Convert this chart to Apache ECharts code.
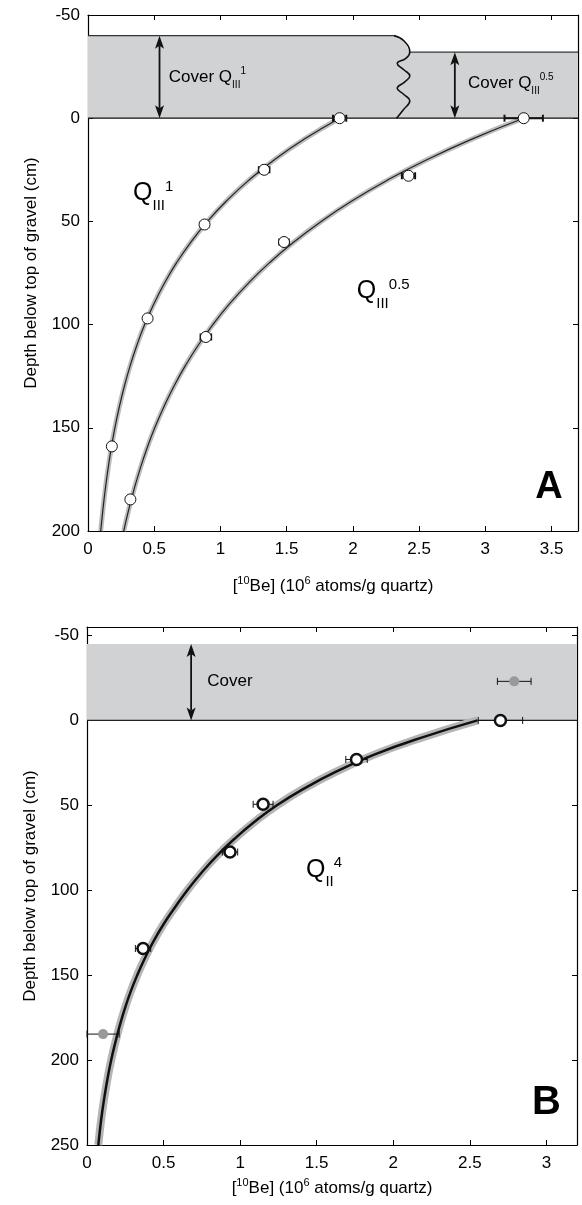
<!DOCTYPE html>
<html><head><meta charset="utf-8">
<script src="https://cdn.jsdelivr.net/npm/echarts@6/dist/echarts.min.js"></script>
<style>html,body{margin:0;padding:0;background:#fff}#c{width:582px;height:1205px}</style>
</head><body><div id="c"></div>
<script>
// ---------- Panel A data ----------
const xTicksA = [0, 0.5, 1, 1.5, 2, 2.5, 3, 3.5];
const yTicksA = [-50, 0, 50, 100, 150, 200];
const curveDepthA = [0,10,20,30,40,50,60,70,80,90,100,110,120,130,140,150,160,170,180,190,200];
const curveQ1  = [1.900,1.637,1.410,1.215,1.047,0.902,0.777,0.669,0.577,0.497,0.428,0.369,0.318,0.274,0.236,0.203,0.175,0.151,0.130,0.112,0.096];
const curveQ05 = [3.290,2.903,2.562,2.261,1.995,1.761,1.554,1.371,1.210,1.068,0.943,0.832,0.734,0.648,0.572,0.504,0.445,0.393,0.347,0.306,0.270];
const q1X     = [1.90, 1.33, 0.88, 0.45, 0.18];
const q1Depth = [0, 25, 51.5, 97, 159];
const q1Err   = [0.05, 0.04, 0.03, 0.02, 0.01];
const q05X     = [3.29, 2.42, 1.48, 0.89, 0.32];
const q05Depth = [0, 27.9, 60, 106, 184.7];
const q05Err   = [0.145, 0.05, 0.035, 0.04, 0.01];
const coverTopA = [-40, -32];          // cover thickness left (Q_III^1) / right (Q_III^0.5)
const waveX     = [2.31, 2.385, 2.43, 2.40, 2.335, 2.385, 2.43, 2.39, 2.335, 2.385, 2.43, 2.38, 2.33];
const waveDepth = [-40, -37.5, -32, -29, -26.5, -23.5, -20.5, -17.5, -14.5, -11.5, -8.5, -4, 0];
const arrowsA = [[0.54, -40, 0], [2.77, -32, 0]];

// ---------- Panel B data ----------
const xTicksB = [0, 0.5, 1, 1.5, 2, 2.5, 3];
const yTicksB = [-50, 0, 50, 100, 150, 200, 250];
const curveDepthB = [0,10,20,30,40,50,60,70,80,90,100,110,120,130,140,150,160,170,180,190,200,210,220,230,240,250];
const curveQ4 = [2.55,2.19,1.88,1.63,1.42,1.24,1.09,0.96,0.845,0.745,0.655,0.575,0.50,0.435,0.378,0.328,0.284,0.246,0.213,0.184,0.158,0.136,0.117,0.100,0.086,0.074];
const q4X     = [2.70, 1.76, 1.15, 0.934, 0.366];
const q4Depth = [0, 23, 49.4, 77.5, 134.3];
const q4Err   = [0.145, 0.07, 0.065, 0.05, 0.05];
const grayX     = [2.79, 0.105];
const grayDepth = [-23, 184.7];
const grayErr   = [0.11, 0.105];
const coverTopB = -45;
const arrowsB = [[0.68, -45, 0]];

const FONT = 'Liberation Sans, Arial, Helvetica, sans-serif';
const INK = '#000';
const zip = (xs, ys) => xs.map((x, i) => [x, ys[i]]);
const zip3 = (xs, ys, es) => xs.map((x, i) => [x, ys[i], es[i]]);

const xName = '[{s|10}Be] (10{s|6} atoms/g quartz)';
const yName = 'Depth below top of gravel (cm)';
const nameRich = {
  s: {fontSize: 11, padding: [0, 0, 12, 0], fontFamily: FONT, color: INK}
};

function xAx(grid, pos, min, max, ticks, showLabel, gap) {
  return {
    type: 'value', gridIndex: grid, position: pos, min: min, max: max,
    axisLine: {show: true, onZero: false, lineStyle: {color: '#000', width: 1.2}},
    axisTick: {show: true, inside: true, length: 5, customValues: ticks, lineStyle: {color: '#000', width: 1}},
    axisLabel: {show: showLabel, customValues: ticks, color: INK, fontSize: 17, fontFamily: FONT, margin: 10},
    splitLine: {show: false},
    name: showLabel ? xName : '', nameLocation: 'middle', nameGap: gap,
    nameTextStyle: {fontSize: 17, fontFamily: FONT, color: INK, rich: nameRich}
  };
}
function yAx(grid, pos, min, max, ticks, showLabel) {
  return {
    type: 'value', gridIndex: grid, position: pos, min: min, max: max, inverse: true,
    axisLine: {show: true, onZero: false, lineStyle: {color: '#000', width: 1.2}},
    axisTick: {show: true, inside: true, length: 5, customValues: ticks, lineStyle: {color: '#000', width: 1}},
    axisLabel: {show: showLabel, customValues: ticks, color: INK, fontSize: 17, fontFamily: FONT, margin: 8},
    splitLine: {show: false},
    name: showLabel ? yName : '', nameLocation: 'middle', nameGap: 48,
    nameTextStyle: {fontSize: 17, fontFamily: FONT, color: INK}
  };
}

function errItem(capH, lw) {
  return function (params, api) {
    const x = api.value(0), y = api.value(1), e = api.value(2);
    const a = api.coord([x - e, y]), b = api.coord([x + e, y]);
    const style = {stroke: '#111', lineWidth: lw};
    return {type: 'group', children: [
      {type: 'line', shape: {x1: a[0], y1: a[1], x2: b[0], y2: b[1]}, style: style},
      {type: 'line', shape: {x1: a[0], y1: a[1] - capH, x2: a[0], y2: a[1] + capH}, style: style},
      {type: 'line', shape: {x1: b[0], y1: b[1] - capH, x2: b[0], y2: b[1] + capH}, style: style}
    ]};
  };
}
function arrowItem(params, api) {
  const p1 = api.coord([api.value(0), api.value(1)]);
  const p2 = api.coord([api.value(0), api.value(2)]);
  const hw = 4.5, hl = 13, notch = 10;
  return {type: 'group', children: [
    {type: 'line', shape: {x1: p1[0], y1: p1[1] + notch, x2: p2[0], y2: p2[1] - notch}, style: {stroke: '#111', lineWidth: 1.8}},
    {type: 'polygon', shape: {points: [[p1[0], p1[1]], [p1[0] - hw, p1[1] + hl], [p1[0], p1[1] + notch], [p1[0] + hw, p1[1] + hl]]}, style: {fill: '#111'}},
    {type: 'polygon', shape: {points: [[p2[0], p2[1]], [p2[0] - hw, p2[1] - hl], [p2[0], p2[1] - notch], [p2[0] + hw, p2[1] - hl]]}, style: {fill: '#111'}}
  ]};
}
function lineS(xi, yi, data, color, width, z, smooth) {
  return {type: 'line', xAxisIndex: xi, yAxisIndex: yi, data: data, symbol: 'none', smooth: smooth || false,
    lineStyle: {color: color, width: width}, z: z, silent: true, animation: false};
}
function textS(xi, yi, items, rich) {
  return {type: 'scatter', xAxisIndex: xi, yAxisIndex: yi, symbolSize: 0, z: 10, silent: true, animation: false,
    itemStyle: {opacity: 1},
    data: items.map(it => ({value: it.pos, label: {show: true, position: it.pos2 || 'right', distance: 0,
      formatter: it.text, fontFamily: FONT, color: INK, fontSize: it.size || 17, fontWeight: it.weight || 'normal', rich: rich}}))};
}

const coverRich = {
  t: {fontSize: 17, lineHeight: 30, fontFamily: FONT, color: INK},
  b: {fontSize: 10, padding: [16, 0, 0, 0], fontFamily: FONT, color: INK},
  p: {fontSize: 10, padding: [0, 0, 12, 0], fontFamily: FONT, color: INK}
};
const bigRich = {
  t: {fontSize: 25, lineHeight: 44, fontFamily: FONT, color: INK},
  b: {fontSize: 15, padding: [24, 0, 0, 0], fontFamily: FONT, color: INK},
  p: {fontSize: 15, padding: [0, 0, 14, 0], fontFamily: FONT, color: INK}
};

const textsA = [
  {pos: [0.61, -20], text: '{t|Cover Q}{b|III}{p|1}'},
  {pos: [2.87, -17], text: '{t|Cover Q}{b|III}{p|0.5}'},
  {pos: [0.34, 36.5], text: '{t|Q}{b|III}{p|1}'},
  {pos: [2.03, 84], text: '{t|Q}{b|III}{p|0.5}'}
];
const textsB = [
  {pos: [0.785, -23], text: '{t|Cover}'},
  {pos: [1.43, 88], text: '{t|Q}{b|II}{p|4}'}
];

const chart = echarts.init(document.getElementById('c'), null, {renderer: 'canvas'});
chart.setOption({
  animation: false,
  backgroundColor: '#fff',
  grid: [
    {left: 88, top: 15, width: 490, height: 516},
    {left: 87, top: 627, width: 490, height: 518}
  ],
  xAxis: [
    xAx(0, 'bottom', 0, 3.7, xTicksA, true, 44),
    xAx(0, 'top', 0, 3.7, xTicksA, false, 0),
    xAx(1, 'bottom', 0, 3.2, xTicksB, true, 32),
    xAx(1, 'top', 0, 3.2, xTicksB, false, 0)
  ],
  yAxis: [
    yAx(0, 'left', -50, 200, yTicksA, true),
    yAx(0, 'right', -50, 200, yTicksA, false),
    yAx(1, 'left', -55, 250, yTicksB, true),
    yAx(1, 'right', -55, 250, yTicksB, false)
  ],
  series: [
    // ---- Panel A ----
    {type: 'custom', xAxisIndex: 0, yAxisIndex: 0, data: [0], z: 1, silent: true,
      renderItem: function (params, api) {
        const pts = [[0, 0], [0, coverTopA[0]], [waveX[0], waveDepth[0]], [waveX[1], waveDepth[1]],
          [waveX[2], waveDepth[2]], [3.7, coverTopA[1]], [3.7, 0]].map(p => api.coord(p));
        return {type: 'polygon', shape: {points: pts}, style: {fill: '#d1d2d4'}};
      }},
    lineS(0, 0, [[0, coverTopA[0]], [waveX[0], coverTopA[0]]], '#333', 1.2, 2),
    lineS(0, 0, [[waveX[2], coverTopA[1]], [3.7, coverTopA[1]]], '#333', 1.2, 2),
    lineS(0, 0, [[0, 0], [3.7, 0]], '#111', 1.3, 2),
    lineS(0, 0, zip(waveX, waveDepth), '#111', 1.6, 3, 0.45),
    lineS(0, 0, zip(curveQ1, curveDepthA), '#bdbdbd', 5, 3, true),
    lineS(0, 0, zip(curveQ05, curveDepthA), '#bdbdbd', 5, 3, true),
    lineS(0, 0, zip(curveQ1, curveDepthA), '#222', 1.2, 4, true),
    lineS(0, 0, zip(curveQ05, curveDepthA), '#222', 1.2, 4, true),
    {type: 'custom', xAxisIndex: 0, yAxisIndex: 0, z: 5, silent: true, renderItem: arrowItem, data: arrowsA},
    {type: 'custom', xAxisIndex: 0, yAxisIndex: 0, z: 5, silent: true, renderItem: errItem(3.5, 2),
      data: zip3(q1X, q1Depth, q1Err).concat(zip3(q05X, q05Depth, q05Err))},
    {type: 'scatter', xAxisIndex: 0, yAxisIndex: 0, z: 6, silent: true, symbol: 'circle', symbolSize: 11,
      itemStyle: {color: '#fff', borderColor: '#111', borderWidth: 1, opacity: 1}, data: zip(q1X, q1Depth).concat(zip(q05X, q05Depth))},
    textS(0, 0, textsA.slice(0, 2), coverRich),
    textS(0, 0, textsA.slice(2), bigRich),
    textS(0, 0, [{pos: [3.48, 179], text: 'A', size: 38, weight: 'bold', pos2: 'inside'}], {}),
    // ---- Panel B ----
    {type: 'custom', xAxisIndex: 2, yAxisIndex: 2, data: [0], z: 1, silent: true,
      renderItem: function (params, api) {
        const pts = [[0, 0], [0, coverTopB], [3.2, coverTopB], [3.2, 0]].map(p => api.coord(p));
        return {type: 'polygon', shape: {points: pts}, style: {fill: '#d1d2d4'}};
      }},
    lineS(2, 2, [[0, 0], [3.2, 0]], '#222', 1.2, 2),
    lineS(2, 2, zip(curveQ4, curveDepthB), '#b5b5b5', 8, 3, true),
    lineS(2, 2, zip(curveQ4, curveDepthB), '#111', 2.5, 4, true),
    {type: 'custom', xAxisIndex: 2, yAxisIndex: 2, z: 5, silent: true, renderItem: arrowItem, data: arrowsB},
    {type: 'custom', xAxisIndex: 2, yAxisIndex: 2, z: 5, silent: true, renderItem: errItem(3.5, 1),
      data: zip3(q4X, q4Depth, q4Err).concat(zip3(grayX, grayDepth, grayErr))},
    {type: 'scatter', xAxisIndex: 2, yAxisIndex: 2, z: 6, silent: true, symbol: 'circle', symbolSize: 11,
      itemStyle: {color: '#fff', borderColor: '#111', borderWidth: 2.5, opacity: 1}, data: zip(q4X, q4Depth)},
    {type: 'scatter', xAxisIndex: 2, yAxisIndex: 2, z: 6, silent: true, symbol: 'circle', symbolSize: 10,
      itemStyle: {color: '#9a9a9a', opacity: 1}, data: zip(grayX, grayDepth)},
    textS(2, 2, textsB.slice(0, 1), coverRich),
    textS(2, 2, textsB.slice(1), bigRich),
    textS(2, 2, [{pos: [3.0, 225], text: 'B', size: 40, weight: 'bold', pos2: 'inside'}], {})
  ]
});
</script></body></html>
